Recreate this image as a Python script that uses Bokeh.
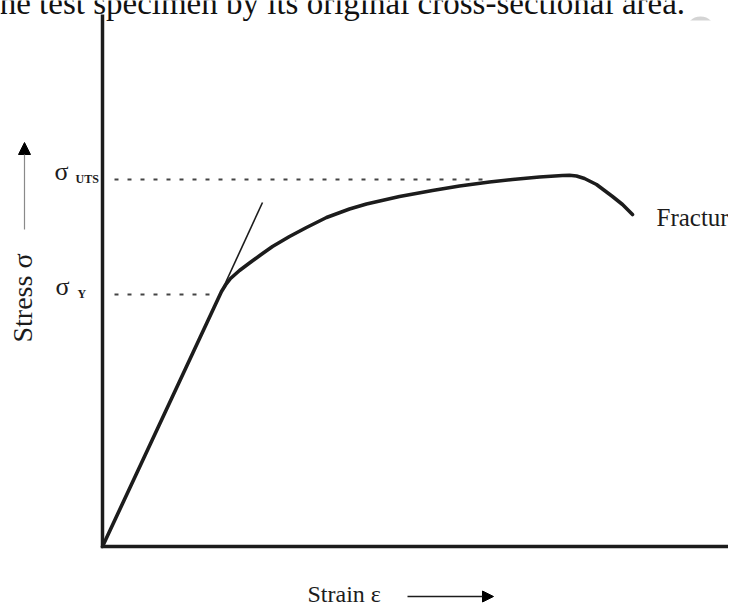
import numpy as np
from bokeh.plotting import figure
from bokeh.models import Range1d, Arrow, NormalHead, Label
from bokeh.embed import file_html
from bokeh.resources import INLINE

# ---- data (arbitrary units; origin at the axes corner) ----
strain = [0, 119, 123, 128, 137, 147, 158, 170, 187, 204, 224, 247, 264, 297,
          330, 357, 387, 410, 437, 460, 467, 474, 482, 494, 510, 520, 530]
stress = [0, 255, 261.5, 268, 276, 283.5, 291.5, 300, 310, 319, 329, 337.5, 342.5, 350,
          356, 360.5, 364.5, 367, 369.5, 371, 371.2, 370.5, 368, 362, 350, 342, 332]
tangent_strain = [119, 160]
tangent_stress = [255, 344]
sigma_uts = 367
sigma_y = 252
uts_line_strain = [12, 387]
y_line_strain = [12, 109]
axis_x = [0, 0, 640]
axis_y = [532, 0, 0]

FONT = "Liberation Serif"
INK = "#1c1c1c"

p = figure(width=728, height=604, output_backend="svg", toolbar_location=None,
           x_range=Range1d(-102, 626), y_range=Range1d(-58, 546),
           x_axis_type=None, y_axis_type=None, min_border=0,
           min_border_left=0, min_border_right=0, min_border_top=0, min_border_bottom=0)
p.outline_line_color = None
p.grid.visible = False
p.background_fill_color = "white"
p.border_fill_color = "white"

# clipped page text above the chart
p.add_layout(Label(x=-112, y=544, text="the test specimen by its original cross-sectional area.",
                   text_font=FONT, text_font_size="33px", text_color="#111",
                   text_baseline="alphabetic"))
# grey decoration at top right (partly hidden)
p.circle(x=[598], y=[515], radius=15, fill_color="#d4d4d4", line_color=None)
p.quad(left=[575], right=[625], top=[526], bottom=[490], fill_color="white", line_color=None)

# axes
p.line(axis_x, axis_y, line_color=INK, line_width=3.5, line_join="miter")

# dotted reference levels
p.line(uts_line_strain, [sigma_uts, sigma_uts], line_color="#444", line_width=2, line_dash="4 9")
p.line(y_line_strain, [sigma_y, sigma_y], line_color="#444", line_width=2, line_dash="4 9")

# tangent and curve
p.line(tangent_strain, tangent_stress, line_color=INK, line_width=1.6)
p.line(strain, stress, line_color=INK, line_width=3.6, line_join="round", line_cap="round")

# labels
p.add_layout(Label(x=-48, y=sigma_uts + 8, text="σ", text_font=FONT, text_font_size="26px",
                   text_color=INK, text_baseline="alphabetic"))
p.add_layout(Label(x=-27, y=sigma_uts + 1, text="UTS", text_font=FONT, text_font_size="12px",
                   text_color=INK, text_baseline="alphabetic", text_font_style="bold"))
p.add_layout(Label(x=-47, y=sigma_y + 8, text="σ", text_font=FONT, text_font_size="26px",
                   text_color=INK, text_baseline="alphabetic"))
p.add_layout(Label(x=-25, y=sigma_y + 1, text="Y", text_font=FONT, text_font_size="12px",
                   text_color=INK, text_baseline="alphabetic", text_font_style="bold"))
p.add_layout(Label(x=554, y=329, text="Fracture", text_font=FONT, text_font_size="25px",
                   text_color=INK, text_baseline="alphabetic"))

# axis titles with arrows
p.add_layout(Label(x=-80, y=204, text="Stress  σ", text_font=FONT, text_font_size="28px",
                   text_color=INK, text_baseline="alphabetic", angle=np.pi / 2))
p.add_layout(Arrow(end=NormalHead(size=12, fill_color="black", line_color="black"),
                   x_start=-78, y_start=317, x_end=-78, y_end=404,
                   line_color="#8a8a8a", line_width=1.2))
p.add_layout(Label(x=205, y=-47, text="Strain  ε", text_font=FONT, text_font_size="24px",
                   text_color=INK, text_baseline="alphabetic"))
p.add_layout(Arrow(end=NormalHead(size=11, fill_color="black", line_color="black"),
                   x_start=305, y_start=-50, x_end=391, y_end=-50,
                   line_color=INK, line_width=1.5))

open("out.html", "w").write(file_html(p, INLINE))
